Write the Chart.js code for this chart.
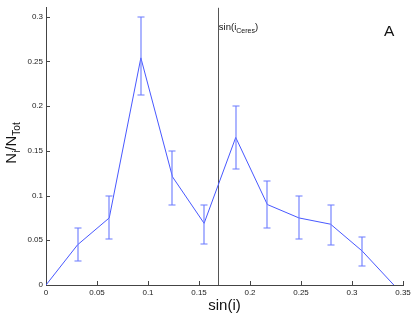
<!DOCTYPE html>
<html><head><meta charset="utf-8">
<script src="https://cdn.jsdelivr.net/npm/chart.js@4"></script>
<style>html,body{margin:0;padding:0;background:#fff}#wrap{width:415px;height:314px}</style>
</head><body><div id="wrap"><canvas id="c" width="415" height="314"></canvas></div>
<script>
// ---- data ----
const sinI     = [0, 0.031, 0.062, 0.093, 0.124, 0.155, 0.186, 0.217, 0.248, 0.279, 0.310, 0.341];
const fraction = [0, 0.045, 0.075, 0.254, 0.121, 0.069, 0.165, 0.090, 0.075, 0.068, 0.038, 0];
const errLow   = [null, 0.027, 0.051, 0.212, 0.090, 0.046, 0.130, 0.064, 0.051, 0.045, 0.021, null];
const errHigh  = [null, 0.064, 0.099, 0.300, 0.150, 0.090, 0.200, 0.116, 0.099, 0.090, 0.054, null];
const xTicks = [0, 0.05, 0.1, 0.15, 0.2, 0.25, 0.3, 0.35];
const yTicks = [0, 0.05, 0.1, 0.15, 0.2, 0.25, 0.3];
const ceresSinI = 0.1685;
const xTitle = 'sin(i)';
const panelLabel = 'A';

const FONT = '"Liberation Sans", Arial, Helvetica, sans-serif';
const fmt = v => String(Number(v.toFixed(2)));

const decor = {
  id: 'decor',
  beforeDatasetsDraw(chart) {
    const {ctx, chartArea: a, scales: {x, y}} = chart;
    ctx.save();
    const cx = Math.round(x.getPixelForValue(ceresSinI)) + 0.5;
    ctx.strokeStyle = '#555'; ctx.lineWidth = 1;
    ctx.beginPath(); ctx.moveTo(cx, a.top); ctx.lineTo(cx, a.bottom); ctx.stroke();
    ctx.strokeStyle = '#444';
    xTicks.forEach(t => { const px = Math.round(x.getPixelForValue(t)) + 0.5;
      ctx.beginPath(); ctx.moveTo(px, a.bottom); ctx.lineTo(px, a.bottom - 4); ctx.stroke(); });
    yTicks.forEach(t => { const py = Math.round(y.getPixelForValue(t)) + 0.5;
      ctx.beginPath(); ctx.moveTo(a.left, py); ctx.lineTo(a.left + 4, py); ctx.stroke(); });
    ctx.restore();
  },
  afterDatasetsDraw(chart) {
    const {ctx, chartArea: a, scales: {x, y}} = chart;
    ctx.save();
    ctx.strokeStyle = '#6a7aff'; ctx.lineWidth = 1.1;
    sinI.forEach((sx, i) => {
      if (errLow[i] == null) return;
      const px = Math.round(x.getPixelForValue(sx));
      const pl = Math.round(y.getPixelForValue(errLow[i]));
      const ph = Math.round(y.getPixelForValue(errHigh[i]));
      ctx.beginPath();
      ctx.moveTo(px, pl); ctx.lineTo(px, ph);
      ctx.moveTo(px - 3.5, pl); ctx.lineTo(px + 3.5, pl);
      ctx.moveTo(px - 3.5, ph); ctx.lineTo(px + 3.5, ph);
      ctx.stroke();
    });
    ctx.fillStyle = '#111';
    ctx.textBaseline = 'alphabetic'; ctx.textAlign = 'left';
    const cx = x.getPixelForValue(ceresSinI);
    let tx = cx + 1;
    ctx.font = '9.5px ' + FONT; ctx.fillText('sin(i', tx, 29.5); tx += ctx.measureText('sin(i').width;
    ctx.font = '7px ' + FONT; ctx.fillText('Ceres', tx, 33); tx += ctx.measureText('Ceres').width;
    ctx.font = '9.5px ' + FONT; ctx.fillText(')', tx, 29.5);
    ctx.font = '15.5px ' + FONT; ctx.fillText(panelLabel, 384, 36);
    ctx.font = '15px ' + FONT; ctx.textAlign = 'center';
    ctx.fillText(xTitle, (a.left + a.right) / 2, 310);
    ctx.textAlign = 'left';
    const parts = [['N', 15, 0], ['i', 10, 3.5], ['/N', 15, 0], ['Tot', 10, 3.5]];
    let w = 0;
    parts.forEach(p => { ctx.font = p[1] + 'px ' + FONT; w += ctx.measureText(p[0]).width; });
    ctx.translate(16, 143); ctx.rotate(-Math.PI / 2);
    let ox = -w / 2;
    parts.forEach(p => { ctx.font = p[1] + 'px ' + FONT; ctx.fillText(p[0], ox, p[2]); ox += ctx.measureText(p[0]).width; });
    ctx.restore();
  }
};

new Chart(document.getElementById('c'), {
  type: 'line',
  data: { datasets: [{
    data: sinI.map((v, i) => ({x: v, y: fraction[i]})),
    borderColor: '#4858ff', borderWidth: 1, pointRadius: 0, tension: 0, fill: false
  }]},
  options: {
    responsive: false, animation: false, devicePixelRatio: 1,
    layout: { padding: { left: 0, right: 12, top: 3, bottom: 0 } },
    plugins: { legend: { display: false }, tooltip: { enabled: false } },
    scales: {
      x: {
        type: 'linear', min: 0, max: 0.35,
        afterFit: s => { s.height = 29; },
        afterBuildTicks: s => { s.ticks = xTicks.map(v => ({value: v})); },
        ticks: { font: { size: 8, family: FONT }, color: '#222', padding: 3, maxRotation: 0, autoSkip: false, callback: v => fmt(v) },
        grid: { drawOnChartArea: false, drawTicks: false },
        border: { color: '#444' }
      },
      y: {
        type: 'linear', min: 0, max: 0.31,
        afterFit: s => { s.width = 46; },
        afterBuildTicks: s => { s.ticks = yTicks.map(v => ({value: v})); },
        ticks: { font: { size: 8, family: FONT }, color: '#222', padding: 3, autoSkip: false, callback: v => fmt(v) },
        grid: { drawOnChartArea: false, drawTicks: false },
        border: { color: '#444' }
      }
    }
  },
  plugins: [decor]
});
</script>
</body></html>
